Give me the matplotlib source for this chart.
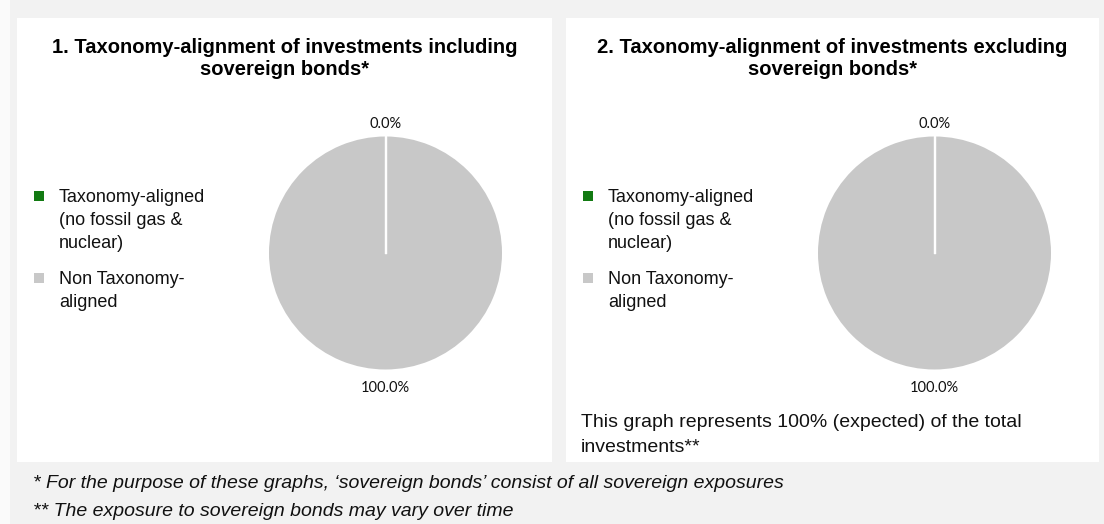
import numpy as np
import matplotlib.pyplot as plt
from matplotlib.patches import Rectangle

# canvas size in pixels (dpi 100)
W, H = 1104, 524

# data
categories = ["Taxonomy-aligned\n(no fossil gas &\nnuclear)", "Non Taxonomy-\naligned"]
incl_sovereign = [0.0, 100.0]
excl_sovereign = [0.0, 100.0]
colors = ["#127A12", "#C8C8C8"]
titles = ["1. Taxonomy-alignment of investments including\nsovereign bonds*",
          "2. Taxonomy-alignment of investments excluding\nsovereign bonds*"]
note = "This graph represents 100% (expected) of the total\ninvestments**"
footnotes = ["* For the purpose of these graphs, \u2018sovereign bonds\u2019 consist of all sovereign exposures",
             "** The exposure to sovereign bonds may vary over time"]

plt.rcParams['font.family'] = ['Liberation Sans', 'DejaVu Sans']


def fx(px):
    return px / W


def fy(py):
    return 1 - py / H


def fig_rect(fig, x0, y0, x1, y1, color):
    # rectangle given in pixel coords (y from top)
    fig.add_artist(Rectangle((fx(x0), fy(y1)), fx(x1 - x0), (y1 - y0) / H,
                             transform=fig.transFigure, facecolor=color,
                             edgecolor='none', zorder=0))


fig = plt.figure(figsize=(W / 100, H / 100), dpi=100, facecolor='#F2F2F2')
fig_rect(fig, 0, 0, 10, H, '#FAFAFA')

panels = [(17, 552), (566, 1099)]
series = [incl_sovereign, excl_sovereign]

for (left, right), values, title in zip(panels, series, titles):
    fig_rect(fig, left, 18, right, 462, 'white')
    fig.text(fx((left + right) / 2), fy(38), title, ha='center', va='top',
             fontsize=14.5, fontweight='bold', linespacing=1.18)

    # pie
    cx, cy, r = left + 368.5, 253, 116.5
    ax = fig.add_axes([fx(cx - r), fy(cy + r), 2 * r / W, 2 * r / H])
    wedges, texts = ax.pie(values, colors=colors, startangle=90, counterclock=False,
                           labels=[f"{v:.1f}%" for v in values], labeldistance=1.05,
                           textprops={'ha': 'center', 'fontsize': 10.5,
                                      'family': ['Lato', 'DejaVu Sans'], 'color': '#111111'})
    for t in texts:
        x, y = t.get_position()
        if y > 0:
            t.set_va('bottom')
        else:
            t.set_va('top')
            t.set_position((x, y * 1.1 / 1.05))
    # white separators between slices
    bounds = 90 - 360 * np.cumsum(values) / np.sum(values)
    for a in np.deg2rad(bounds):
        ax.plot([0, np.cos(a)], [0, np.sin(a)], color='white', lw=1.6)
    ax.set_xlim(-1, 1)
    ax.set_ylim(-1, 1)

    # legend
    ytop = 189
    for label, color in zip(categories, colors):
        fig_rect(fig, left + 17, ytop + 2, left + 27, ytop + 12, color)
        fig.text(fx(left + 42), fy(ytop), label, ha='left', va='top',
                 fontsize=13, linespacing=1.45, color='#111111')
        ytop += 22 * (label.count("\n") + 1) + 16

fig.text(fx(581), fy(414), note, ha='left', va='top', fontsize=14,
         linespacing=1.6, color='#111111')

for i, txt in enumerate(footnotes):
    fig.text(fx(33), fy(483 + 28 * i), txt, ha='left', va='center',
             fontsize=14, style='italic', color='#111111')

fig.savefig('out.png', dpi=100, facecolor=fig.get_facecolor())
